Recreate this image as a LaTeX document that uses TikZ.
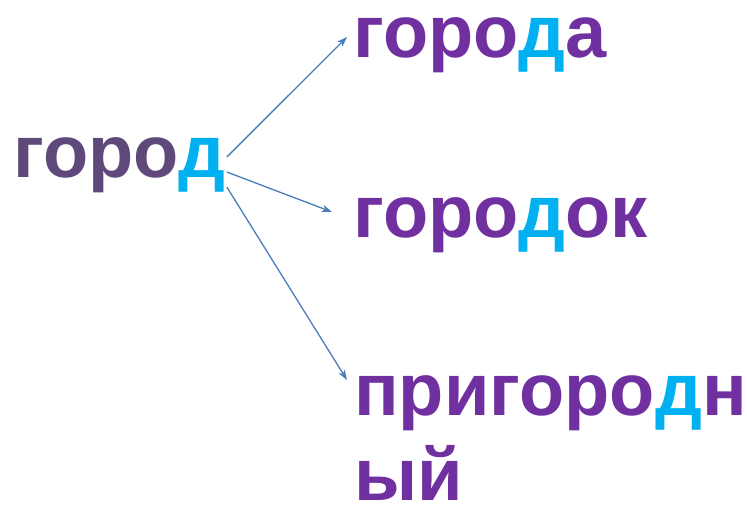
\documentclass[tikz,border=0pt]{standalone}
\usepackage{fontspec}
\setmainfont{Liberation Sans}
\usepackage{xcolor}
\definecolor{rootpurple}{HTML}{5F497A}
\definecolor{wordpurple}{HTML}{7030A0}
\definecolor{letterblue}{HTML}{00B0F0}
\definecolor{arrowblue}{HTML}{4A7EBB}
\usetikzlibrary{arrows.meta}

\begin{document}
\begin{tikzpicture}[x=1pt,y=-1pt,
  word/.style={anchor=base west,inner sep=0pt,font=\fontsize{74}{85}\selectfont\bfseries,text=wordpurple},
  link/.style={draw=arrowblue,line width=1.3pt,-{Stealth[length=10pt,width=7pt,inset=2.5pt]}}]
\useasboundingbox (0,0) rectangle (747,506);

\node[word,text=rootpurple] (gorod) at (13,177) {горо\textcolor{letterblue}{д}};
\node[word] (goroda) at (353,57) {горо\textcolor{letterblue}{д}а};
\node[word] (gorodok) at (353,237) {горо\textcolor{letterblue}{д}ок};
\node[word,align=left] (prigorodny) at (354,500) {пригоро\textcolor{letterblue}{д}н\\ый};

\draw[link] ([shift={(1,-20)}]gorod.base east) -- ([shift={(-6,-20)}]goroda.base west);
\draw[link] ([shift={(1,-5)}]gorod.base east) -- ([shift={(-21,-25)}]gorodok.base west);
\draw[link] ([shift={(1,10)}]gorod.base east) -- ([shift={(-7,-120)}]prigorodny.base west);
\end{tikzpicture}
\end{document}
